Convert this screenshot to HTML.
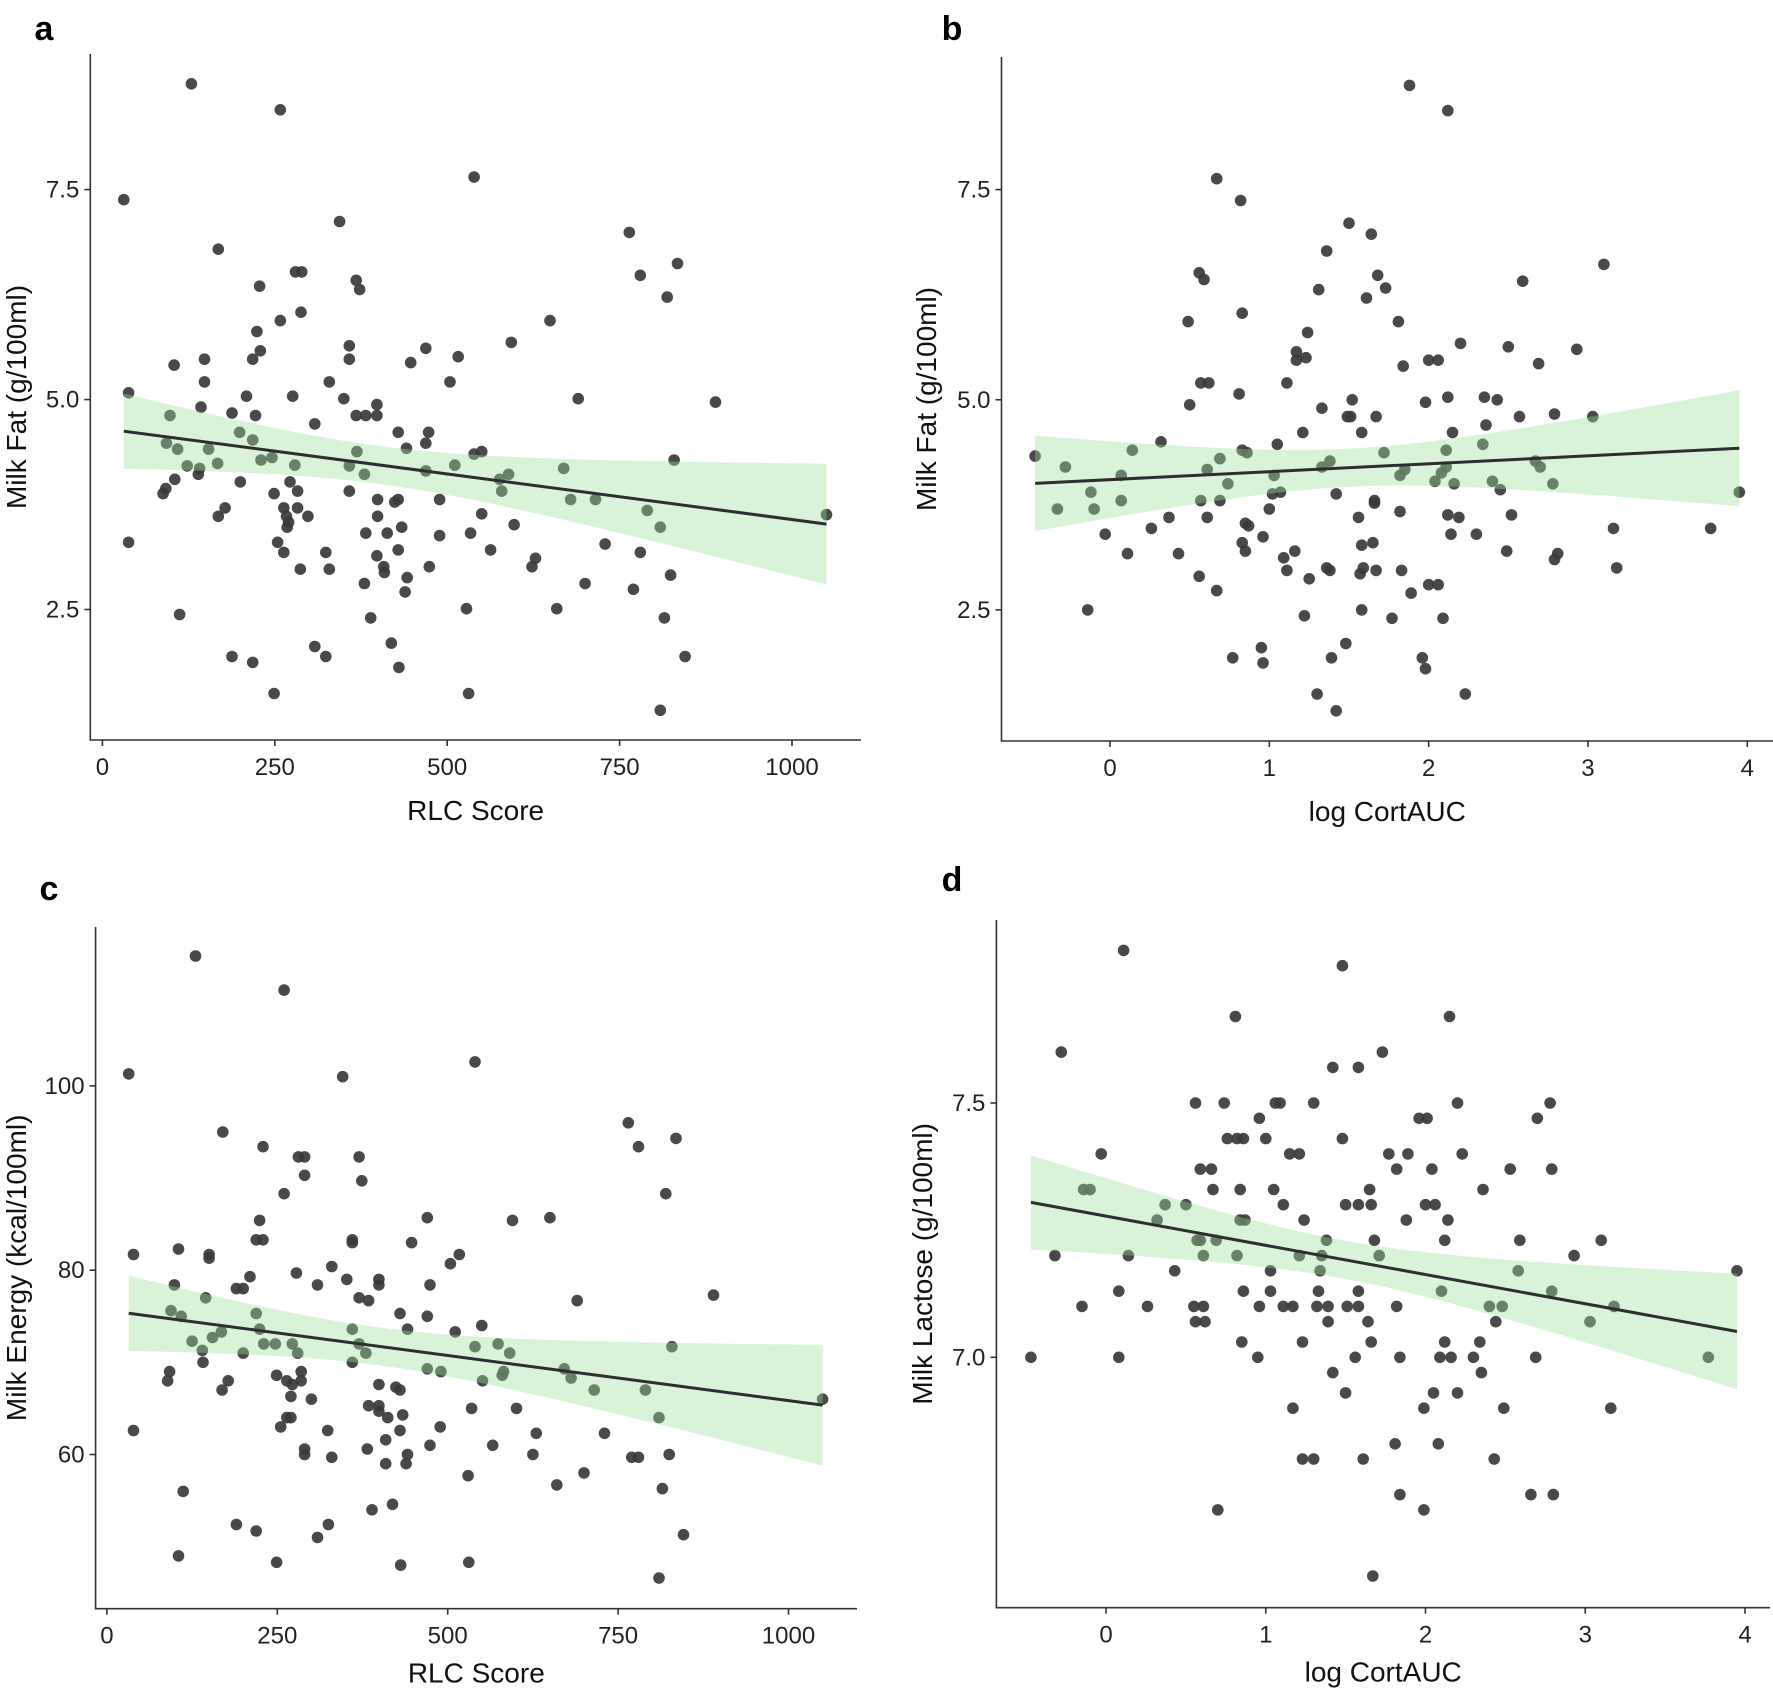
<!DOCTYPE html>
<html><head><meta charset="utf-8"><style>
html,body{margin:0;padding:0;background:#fff;}
svg{display:block;font-family:"Liberation Sans",Arial,sans-serif;}
</style></head><body>
<svg id="fig" width="1773" height="1691" viewBox="0 0 1773 1691" xmlns="http://www.w3.org/2000/svg"></svg>
<script>
// Panel a: RLC score vs milk fat
const aX=[129,258,31,539,344,764,168,780,834,280,289,228,368,373,819,288,258,649,224,358,469,593,229,218,148,358,516,447,104,148,329,504,38,209,276,350,690,889,143,398,188,222,368,382,398,98,308,199,429,473,218,469,93,441,109,154,550,369,539,230,246,167,829,123,141,279,358,511,669,469,139,380,589,576,105,200,272,579,92,88,249,283,358,399,424,429,489,679,715,178,263,283,790,168,267,298,399,550,1050,270,268,809,597,434,382,413,534,489,38,254,729,563,429,263,324,780,398,628,623,408,474,287,329,409,824,442,380,700,770,439,528,659,112,815,389,419,308,188,324,845,218,430,249,531,809];
const aY=[8.76,8.45,7.38,7.65,7.12,6.99,6.79,6.48,6.62,6.52,6.52,6.35,6.42,6.31,6.22,6.04,5.94,5.94,5.81,5.64,5.61,5.68,5.58,5.48,5.48,5.48,5.51,5.44,5.41,5.21,5.21,5.21,5.08,5.04,5.04,5.01,5.01,4.97,4.91,4.94,4.84,4.81,4.81,4.81,4.81,4.81,4.71,4.61,4.61,4.61,4.52,4.48,4.48,4.42,4.41,4.41,4.38,4.38,4.35,4.28,4.31,4.24,4.28,4.21,4.18,4.22,4.21,4.22,4.18,4.15,4.11,4.11,4.11,4.05,4.05,4.02,4.02,3.91,3.94,3.88,3.88,3.91,3.91,3.81,3.78,3.81,3.81,3.81,3.81,3.71,3.71,3.71,3.68,3.61,3.61,3.61,3.61,3.64,3.63,3.54,3.48,3.48,3.51,3.48,3.41,3.41,3.41,3.38,3.30,3.30,3.28,3.21,3.21,3.18,3.18,3.18,3.14,3.11,3.01,3.01,3.01,2.98,2.98,2.94,2.91,2.88,2.81,2.81,2.74,2.71,2.51,2.51,2.44,2.40,2.40,2.10,2.06,1.94,1.94,1.94,1.87,1.81,1.50,1.50,1.30];
// Panel b: log CortAUC vs milk fat
const bX=[1.88,2.12,0.67,0.82,1.50,1.64,1.36,3.10,0.56,0.59,1.68,1.73,2.59,1.31,1.61,0.83,0.49,1.81,1.24,2.20,2.50,2.93,1.17,1.17,1.23,2.00,2.06,1.84,2.69,0.57,0.62,1.11,0.81,1.52,2.12,2.35,2.43,1.98,0.50,1.33,1.49,1.51,1.67,2.57,2.79,3.03,2.36,1.21,1.58,2.15,0.32,1.05,2.34,-0.47,0.14,0.83,0.86,2.11,1.72,0.69,1.38,-0.28,0.61,1.33,2.67,2.70,2.11,1.85,0.07,1.03,1.82,2.08,2.04,0.74,2.16,2.40,2.78,2.45,-0.12,3.95,1.02,1.07,1.42,0.07,0.57,0.69,1.66,1.66,-0.33,-0.10,1.00,1.82,0.37,0.61,1.56,2.12,2.19,2.52,0.85,0.87,0.26,3.16,3.77,-0.03,0.96,2.14,2.30,0.83,1.58,1.65,0.11,0.43,0.85,1.16,2.49,2.81,2.79,1.09,3.18,1.11,1.36,1.38,1.59,1.57,1.67,1.83,0.56,1.25,0.67,1.89,2.00,2.06,-0.14,1.58,1.22,1.77,2.09,1.48,0.95,0.77,0.96,1.39,1.96,1.98,1.30,2.23,1.42];
const bY=[8.74,8.44,7.63,7.37,7.10,6.97,6.77,6.61,6.51,6.43,6.48,6.33,6.41,6.31,6.21,6.03,5.93,5.93,5.80,5.67,5.63,5.60,5.57,5.47,5.50,5.47,5.47,5.40,5.43,5.20,5.20,5.20,5.07,5.00,5.03,5.03,5.00,4.97,4.94,4.90,4.80,4.80,4.80,4.80,4.83,4.80,4.70,4.61,4.61,4.61,4.50,4.47,4.47,4.33,4.40,4.40,4.37,4.40,4.37,4.30,4.27,4.20,4.17,4.20,4.27,4.20,4.20,4.17,4.10,4.10,4.10,4.13,4.03,4.00,4.00,4.03,4.00,3.93,3.90,3.90,3.88,3.90,3.88,3.80,3.80,3.80,3.80,3.77,3.70,3.70,3.70,3.67,3.60,3.60,3.60,3.63,3.60,3.63,3.53,3.50,3.47,3.47,3.47,3.40,3.37,3.40,3.40,3.30,3.27,3.30,3.17,3.17,3.20,3.20,3.20,3.17,3.10,3.12,3.00,2.97,3.00,2.97,3.00,2.93,2.97,2.97,2.90,2.87,2.73,2.70,2.80,2.80,2.50,2.50,2.43,2.40,2.40,2.10,2.05,1.93,1.87,1.93,1.93,1.80,1.50,1.50,1.30];
// Panel c: RLC score vs milk energy
const cX=[130,260,32,346,540,765,170,780,835,229,281,290,370,290,374,260,820,470,650,595,224,219,229,360,360,447,105,39,150,150,517,504,330,278,210,352,399,399,99,309,474,190,200,145,370,384,690,890,94,109,219,430,470,360,224,441,550,168,511,155,125,230,247,272,370,574,540,829,140,200,280,380,591,141,360,470,671,92,490,582,580,249,285,89,178,264,285,551,681,272,399,424,169,430,715,790,270,300,1050,384,399,535,601,399,434,412,264,270,810,255,489,39,324,430,630,730,409,474,566,382,290,290,330,441,625,825,770,780,409,439,700,530,660,815,112,419,389,190,325,219,846,309,105,249,531,431,810];
const cY=[114.1,110.4,101.3,101.0,102.6,96.0,95.0,93.4,94.3,93.4,92.3,92.3,92.3,90.3,89.7,88.3,88.3,85.7,85.7,85.4,85.4,83.3,83.3,83.3,83.0,83.0,82.3,81.7,81.7,81.3,81.7,80.7,80.4,79.7,79.3,79.0,79.0,78.4,78.4,78.4,78.4,78.0,78.0,77.0,77.0,76.7,76.7,77.3,75.6,75.0,75.3,75.3,75.0,73.6,73.6,73.6,74.0,73.3,73.3,72.7,72.3,72.0,72.0,72.0,72.0,72.0,71.7,71.7,71.3,71.0,71.0,71.0,71.0,70.0,70.0,69.3,69.3,69.0,69.0,69.0,68.6,68.6,69.0,68.0,68.0,68.0,68.0,68.0,68.3,67.6,67.6,67.3,67.0,67.0,67.0,67.0,66.3,66.0,66.0,65.3,65.3,65.0,65.0,64.7,64.3,64.0,64.0,64.0,64.0,63.0,63.0,62.6,62.6,62.6,62.3,62.3,61.6,61.0,61.0,60.6,60.6,60.0,59.7,60.0,60.0,60.0,59.7,59.7,59.0,59.0,58.0,57.7,56.7,56.3,56.0,54.6,54.0,52.4,52.4,51.7,51.3,51.0,49.0,48.3,48.3,48.0,46.6];
// Panel d: log CortAUC vs milk lactose
const dX=[0.11,1.48,0.81,2.15,-0.28,1.73,1.42,1.58,0.56,0.74,1.06,1.09,1.30,2.20,2.78,0.96,1.96,2.01,2.70,0.76,0.82,0.86,1.00,1.48,-0.03,1.15,1.21,1.77,1.89,2.23,0.59,0.66,1.82,2.04,2.53,2.79,-0.14,-0.10,0.67,0.84,1.05,1.65,2.36,0.37,0.50,1.11,1.50,1.58,1.66,2.00,2.06,0.32,0.84,0.87,1.24,1.88,2.14,0.57,0.59,0.69,1.38,1.68,2.12,2.59,3.10,-0.32,0.14,0.61,0.82,1.21,1.35,1.71,2.93,0.43,1.03,1.34,2.58,3.95,0.08,0.86,1.03,1.33,1.58,2.10,2.79,-0.15,0.26,0.55,0.61,0.96,1.11,1.17,1.32,1.39,1.51,1.58,1.82,2.40,2.48,3.18,0.56,0.62,1.39,1.64,2.44,3.03,0.85,1.23,1.66,2.12,2.34,-0.47,0.08,0.95,1.56,1.84,2.09,2.16,2.30,2.69,3.77,1.42,2.35,1.50,2.05,2.20,1.17,1.99,2.49,3.16,1.81,2.08,1.23,1.30,1.61,2.43,1.84,2.66,2.80,0.70,1.99,1.67];
const dY=[7.80,7.77,7.67,7.67,7.60,7.60,7.57,7.57,7.50,7.50,7.50,7.50,7.50,7.50,7.50,7.47,7.47,7.47,7.47,7.43,7.43,7.43,7.43,7.43,7.40,7.40,7.40,7.40,7.40,7.40,7.37,7.37,7.37,7.37,7.37,7.37,7.33,7.33,7.33,7.33,7.33,7.33,7.33,7.30,7.30,7.30,7.30,7.30,7.30,7.30,7.30,7.27,7.27,7.27,7.27,7.27,7.27,7.23,7.23,7.23,7.23,7.23,7.23,7.23,7.23,7.20,7.20,7.20,7.20,7.20,7.20,7.20,7.20,7.17,7.17,7.17,7.17,7.17,7.13,7.13,7.13,7.13,7.13,7.13,7.13,7.10,7.10,7.10,7.10,7.10,7.10,7.10,7.10,7.10,7.10,7.10,7.10,7.10,7.10,7.10,7.07,7.07,7.07,7.07,7.07,7.07,7.03,7.03,7.03,7.03,7.03,7.00,7.00,7.00,7.00,7.00,7.00,7.00,7.00,7.00,7.00,6.97,6.97,6.93,6.93,6.93,6.90,6.90,6.90,6.90,6.83,6.83,6.80,6.80,6.80,6.80,6.73,6.73,6.73,6.70,6.70,6.57];
const abYTicks=[2.5,5.0,7.5];
const abYLabels=["2.5","5.0","7.5"];
const rlcTicks=[0,250,500,750,1000];
const rlcLabels=["0","250","500","750","1000"];
const cortTicks=[0,1,2,3,4];
const cortLabels=["0","1","2","3","4"];
const cYTicks=[60,80,100];
const cYLabels=["60","80","100"];
const dYTicks=[7.0,7.5];
const dYLabels=["7.0","7.5"];

const NS="http://www.w3.org/2000/svg";
const svg=document.getElementById('fig');
function mk(tag,attrs,parent){const e=document.createElementNS(NS,tag);for(const k in attrs)e.setAttribute(k,attrs[k]);(parent||svg).appendChild(e);return e;}
function lin(d0,d1,p0,p1){return v=>p0+(v-d0)*(p1-p0)/(d1-d0);}

function panel(cfg){
  const g=mk('g',{});
  
  
  const sx=lin(cfg.xd[0],cfg.xd[1],cfg.xp[0],cfg.xp[1]);
  const sy=lin(cfg.yd[0],cfg.yd[1],cfg.yp[0],cfg.yp[1]);
  const X=cfg.x,Y=cfg.y;
  const pg=mk('g',{},g);
  
  
  for(let i=0;i<X.length;i++){
    const c=mk('circle',{cx:sx(X[i]).toFixed(1),cy:sy(Y[i]).toFixed(1),r:5.8,fill:'#3a3a3a','fill-opacity':0.92},pg);
    
    
  }
  const n=X.length;let mx=0,my=0;for(let i=0;i<n;i++){mx+=X[i];my+=Y[i];}mx/=n;my/=n;
  let sxx=0,sxy=0;for(let i=0;i<n;i++){sxx+=(X[i]-mx)**2;sxy+=(X[i]-mx)*(Y[i]-my);}
  const b=sxy/sxx,a=my-b*mx;let sse=0;for(let i=0;i<n;i++){sse+=(Y[i]-a-b*X[i])**2;}
  const s=Math.sqrt(sse/(n-2)),t=1.977;
  const x0=Math.min(...X),x1=Math.max(...X);
  const up=[],lo=[];
  for(let k=0;k<=80;k++){const xv=x0+(x1-x0)*k/80;const yv=a+b*xv;const se=s*Math.sqrt(1/n+(xv-mx)**2/sxx);
    up.push(sx(xv).toFixed(1)+','+sy(yv+t*se).toFixed(1));lo.unshift(sx(xv).toFixed(1)+','+sy(yv-t*se).toFixed(1));}
  const band=mk('polygon',{points:up.concat(lo).join(' '),fill:'#9be09b','fill-opacity':0.38},g);
  
  
  const line=mk('line',{x1:sx(x0),y1:sy(a+b*x0),x2:sx(x1),y2:sy(a+b*x1),stroke:'#2e2e2e','stroke-width':3},g);
  
  
  const ax=mk('path',{d:`M${cfg.box[0]},${cfg.box[1]}V${cfg.box[3]}H${cfg.box[2]}`,fill:'none',stroke:'#333','stroke-width':1.6},g);
  
  
  cfg.xt.forEach((v,i)=>{const px=sx(v);
    mk('line',{x1:px,y1:cfg.box[3],x2:px,y2:cfg.box[3]+6,stroke:'#333','stroke-width':1.6},g);
    const tx=mk('text',{x:px,y:cfg.box[3]+35,'text-anchor':'middle','font-size':24,fill:'#222'},g);
    tx.textContent=cfg.xl[i];
    
    });
  cfg.yt.forEach((v,i)=>{const py=sy(v);
    mk('line',{x1:cfg.box[0]-6,y1:py,x2:cfg.box[0],y2:py,stroke:'#333','stroke-width':1.6},g);
    const tx=mk('text',{x:cfg.box[0]-11,y:py+8,'text-anchor':'end','font-size':24,fill:'#222'},g);
    tx.textContent=cfg.yl[i];
    
    });
  const xtit=mk('text',{x:(cfg.box[0]+cfg.box[2])/2,y:cfg.box[3]+cfg.xty,'text-anchor':'middle','font-size':28,fill:'#111'},g);
  xtit.textContent=cfg.xtitle;
  
  
  const ycy=(cfg.box[1]+cfg.box[3])/2;
  const ytit=mk('text',{x:cfg.ytx,y:ycy,'text-anchor':'middle','font-size':28,fill:'#111',transform:`rotate(-90 ${cfg.ytx} ${ycy})`},g);
  ytit.textContent=cfg.ytitle;
  
  
  const lab=mk('text',{x:cfg.lab[0],y:cfg.lab[1],'text-anchor':'middle','font-size':34,'font-weight':'bold',fill:'#000'},g);
  lab.textContent=cfg.id;
  
  
}

panel({id:'a',x:aX,y:aY,xd:[0,1000],xp:[102.4,792],yd:[2.5,7.5],yp:[609.5,189.6],box:[90.3,54,861,740],xty:80,
  xt:rlcTicks,xl:rlcLabels,yt:abYTicks,yl:abYLabels,xtitle:'RLC Score',ytitle:'Milk Fat (g/100ml)',ytx:26,lab:[44,40]});
panel({id:'b',x:bX,y:bY,xd:[0,4],xp:[1110,1747.3],yd:[2.5,7.5],yp:[609.9,189.6],box:[1001.5,57,1773,741],xty:80,
  xt:cortTicks,xl:cortLabels,yt:abYTicks,yl:abYLabels,xtitle:'log CortAUC',ytitle:'Milk Fat (g/100ml)',ytx:936,lab:[952,40]});
panel({id:'c',x:cX,y:cY,xd:[0,1000],xp:[106.9,788.5],yd:[60,100],yp:[1454.5,1085.9],box:[95.6,927,857,1608.7],xty:74,
  xt:rlcTicks,xl:rlcLabels,yt:cYTicks,yl:cYLabels,xtitle:'RLC Score',ytitle:'Milk Energy (kcal/100ml)',ytx:26,lab:[49,900]});
panel({id:'d',x:dX,y:dY,xd:[0,4],xp:[1106,1745],yd:[7.0,7.5],yp:[1357.3,1103],box:[996.4,920,1770,1607.7],xty:74,
  xt:cortTicks,xl:cortLabels,yt:dYTicks,yl:dYLabels,xtitle:'log CortAUC',ytitle:'Milk Lactose (g/100ml)',ytx:932,lab:[952,891]});
</script>
</body></html>
